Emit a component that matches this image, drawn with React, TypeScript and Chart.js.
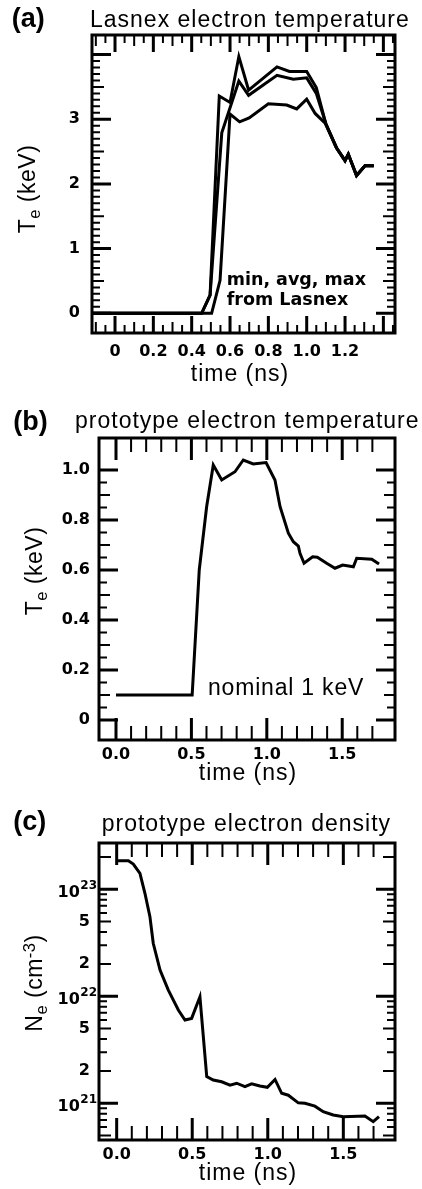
import React, { useEffect, useRef } from "react";
import { Chart, registerables } from "chart.js";
Chart.register(...registerables);

// ---------- Panel (a): Lasnex electron temperature ----------
const timeMaxA = [-0.12, 0.452, 0.496, 0.544, 0.6, 0.646, 0.697, 0.845, 0.91, 1.0, 1.05, 1.1, 1.155, 1.2, 1.217, 1.26, 1.304, 1.35];
const teMaxA = [0, 0, 0.28, 3.36, 3.26, 3.97, 3.45, 3.81, 3.74, 3.74, 3.49, 2.93, 2.56, 2.36, 2.46, 2.13, 2.28, 2.28];
const timeAvgA = [-0.12, 0.452, 0.496, 0.557, 0.646, 0.697, 0.845, 0.93, 1.0, 1.05, 1.1, 1.155, 1.2, 1.217, 1.26, 1.304, 1.35];
const teAvgA = [0, 0, 0.28, 2.79, 3.59, 3.37, 3.68, 3.62, 3.64, 3.4, 2.93, 2.56, 2.36, 2.46, 2.13, 2.28, 2.28];
const timeMinA = [-0.12, 0.504, 0.548, 0.6, 0.65, 0.7, 0.8, 0.896, 0.948, 1.0, 1.044, 1.096, 1.155, 1.2, 1.217, 1.26, 1.304, 1.35];
const teMinA = [0, 0, 0.51, 3.08, 2.96, 3.02, 3.24, 3.22, 3.16, 3.31, 3.09, 2.94, 2.56, 2.36, 2.46, 2.13, 2.28, 2.28];
const xLabelsA = [0, 0.2, 0.4, 0.6, 0.8, 1.0, 1.2];
const yLabelsA = [0, 1, 2, 3];

// ---------- Panel (b): prototype electron temperature ----------
const timeB = [0, 0.505, 0.552, 0.601, 0.645, 0.701, 0.789, 0.844, 0.91, 0.995, 1.054, 1.088, 1.143, 1.176, 1.209, 1.22, 1.247, 1.304, 1.335, 1.397, 1.452, 1.503, 1.574, 1.596, 1.696, 1.744];
const teB = [0.1, 0.1, 0.6, 0.853, 1.02, 0.96, 0.993, 1.04, 1.024, 1.03, 0.96, 0.853, 0.747, 0.713, 0.696, 0.667, 0.627, 0.653, 0.651, 0.627, 0.607, 0.62, 0.613, 0.647, 0.643, 0.624];
const xLabelsB = [0, 0.5, 1.0, 1.5];
const yLabelsB = [0, 0.2, 0.4, 0.6, 0.8, 1.0];

// ---------- Panel (c): prototype electron density ----------
const timeC = [0, 0.077, 0.11, 0.154, 0.187, 0.22, 0.242, 0.287, 0.341, 0.408, 0.452, 0.496, 0.551, 0.596, 0.639, 0.695, 0.75, 0.794, 0.849, 0.893, 0.948, 0.997, 1.048, 1.092, 1.136, 1.202, 1.246, 1.312, 1.367, 1.433, 1.5, 1.643, 1.698, 1.736];
const neC = [1.85e23, 1.85e23, 1.72e23, 1.41e23, 9.18e22, 5.55e22, 3.13e22, 1.76e22, 1.15e22, 7.45e21, 6.0e21, 6.22e21, 9.9e21, 1.78e21, 1.65e21, 1.59e21, 1.48e21, 1.54e21, 1.43e21, 1.52e21, 1.45e21, 1.41e21, 1.67e21, 1.24e21, 1.19e21, 1.01e21, 1.0e21, 9.4e20, 8.35e20, 7.78e20, 7.5e20, 7.6e20, 6.73e20, 7.5e20];
const xLabelsC = [0, 0.5, 1.0, 1.5];
const yLabelsC = [2e21, 5e21, 2e22, 5e22];
const yDecadeExpC = [21, 22, 23];

type Mark = { v: number; len: number; w: number };

function linMarks(from: number, to: number, step: number, lenFn: (k: number) => number): Mark[] {
  const out: Mark[] = [];
  const n0 = Math.round(from / step);
  const n1 = Math.round(to / step);
  for (let k = n0; k <= n1; k++) {
    const len = lenFn(k);
    out.push({ v: +(k * step).toFixed(6), len, w: len > 15 ? 3 : 2 });
  }
  return out;
}

function logMarks(minV: number, maxV: number): Mark[] {
  const out: Mark[] = [];
  for (let e = 19; e <= 24; e++) {
    for (let m = 1; m <= 9; m++) {
      const v = m * Math.pow(10, e);
      if (v < minV || v > maxV) continue;
      const len = m === 1 ? 19 : m === 2 || m === 5 ? 12 : 8;
      out.push({ v, len, w: m === 1 ? 3 : 2 });
    }
  }
  return out;
}

function framePlugin(xMarks: Mark[], yMarks: Mark[], decades?: number[]) {
  return {
    id: "frameTicks",
    afterDatasetsDraw(chart: any) {
      const { ctx, chartArea } = chart;
      const { left, right, top, bottom } = chartArea;
      const xs = chart.scales.x;
      const ys = chart.scales.y;
      ctx.save();
      ctx.strokeStyle = "#000";
      ctx.lineCap = "butt";
      for (const m of xMarks) {
        const px = xs.getPixelForValue(m.v);
        if (px < left + 2 || px > right - 2) continue;
        ctx.lineWidth = m.w;
        ctx.beginPath();
        ctx.moveTo(px, bottom);
        ctx.lineTo(px, bottom - m.len);
        ctx.moveTo(px, top);
        ctx.lineTo(px, top + m.len);
        ctx.stroke();
      }
      for (const m of yMarks) {
        const py = ys.getPixelForValue(m.v);
        if (py < top + 2 || py > bottom - 2) continue;
        ctx.lineWidth = m.w;
        ctx.beginPath();
        ctx.moveTo(left, py);
        ctx.lineTo(left + m.len, py);
        ctx.moveTo(right, py);
        ctx.lineTo(right - m.len, py);
        ctx.stroke();
      }
      ctx.lineWidth = 3;
      ctx.strokeRect(left, top, right - left, bottom - top);

      if (decades) {
        ctx.fillStyle = "#000";
        ctx.textAlign = "right";
        ctx.textBaseline = "middle";
        for (const e of decades) {
          const py = ys.getPixelForValue(Math.pow(10, e));
          const expText = String(e);
          ctx.font = "bold 12px 'DejaVu Sans'";
          const ew = ctx.measureText(expText).width;
          const xr = left - 2;
          ctx.fillText(expText, xr, py - 3);
          ctx.font = "bold 16px 'DejaVu Sans'";
          ctx.fillText("10", xr - ew - 0.5, py + 4);
        }
      }
      ctx.restore();
    },
  };
}

const tickFont = { family: "DejaVu Sans", size: 16, weight: "bold" as const };
const Y_W = 60;
const X_H = 40;

type PanelSpec = {
  canvasTop: number;
  canvasH: number;
  area: { L: number; R: number; T: number; B: number };
  datasets: any[];
  x: { min: number; max: number; labels: number[]; fmt: (v: number) => string; pad: number };
  y: { type: string; min: number; max: number; labels: number[]; fmt: (v: number) => string; pad: number };
  xMarks: Mark[];
  yMarks: Mark[];
  decades?: number[];
};

function line(times: number[], vals: number[]) {
  return {
    data: times.map((t, i) => ({ x: t, y: vals[i] })),
    borderColor: "#000",
    borderWidth: 3,
    pointRadius: 0,
    fill: false,
    tension: 0,
    borderJoinStyle: "miter",
  };
}

function Panel({ spec }: { spec: PanelSpec }) {
  const ref = useRef<HTMLCanvasElement | null>(null);
  useEffect(() => {
    if (!ref.current) return;
    const { area, canvasTop, canvasH } = spec;
    const chart = new Chart(ref.current, {
      type: "line",
      data: { datasets: spec.datasets },
      options: {
        responsive: false,
        animation: false,
        events: [],
        layout: {
          padding: {
            left: area.L - Y_W,
            right: 422 - area.R,
            top: area.T - canvasTop,
            bottom: canvasTop + canvasH - area.B - X_H,
          },
        },
        plugins: { legend: { display: false }, tooltip: { enabled: false } },
        scales: {
          x: {
            type: "linear",
            min: spec.x.min,
            max: spec.x.max,
            bounds: "data",
            grid: { display: false, drawTicks: false },
            border: { display: false },
            ticks: {
              font: tickFont,
              color: "#000",
              padding: spec.x.pad,
              maxRotation: 0,
              minRotation: 0,
              autoSkip: false,
              callback: (v: any) => spec.x.fmt(Number(v)),
            },
            afterBuildTicks: (s: any) => {
              s.ticks = spec.x.labels.map((v) => ({ value: v }));
            },
            afterFit: (s: any) => {
              s.height = X_H;
            },
          },
          y: {
            type: spec.y.type as any,
            min: spec.y.min,
            max: spec.y.max,
            bounds: "data",
            grid: { display: false, drawTicks: false },
            border: { display: false },
            ticks: {
              font: tickFont,
              color: "#000",
              padding: spec.y.pad,
              autoSkip: false,
              callback: (v: any) => spec.y.fmt(Number(v)),
            },
            afterBuildTicks: (s: any) => {
              s.ticks = spec.y.labels.map((v) => ({ value: v }));
            },
            afterFit: (s: any) => {
              s.width = Y_W;
            },
          },
        },
      } as any,
      plugins: [framePlugin(spec.xMarks, spec.yMarks, spec.decades)],
    });
    return () => chart.destroy();
  }, [spec]);
  return (
    <canvas
      ref={ref}
      width={422}
      height={spec.canvasH}
      style={{ position: "absolute", left: 0, top: spec.canvasTop, width: 422, height: spec.canvasH }}
    />
  );
}

const panelA: PanelSpec = {
  canvasTop: 0,
  canvasH: 395,
  area: { L: 92, R: 395, T: 35, B: 333 },
  datasets: [line(timeMaxA, teMaxA), line(timeAvgA, teAvgA), line(timeMinA, teMinA)],
  x: { min: -0.12, max: 1.4606, labels: xLabelsA, fmt: (v) => (v === 0 ? "0" : v.toFixed(1)), pad: 9 },
  y: { type: "linear", min: -0.305, max: 4.303, labels: yLabelsA, fmt: (v) => String(v), pad: 12 },
  xMarks: linMarks(-0.1, 1.45, 0.05, (k) => (k % 4 === 0 ? 17 : k % 2 === 0 ? 11 : 8)),
  yMarks: linMarks(0, 4.0, 0.1, (k) => (k % 10 === 0 ? 19 : k % 5 === 0 ? 12 : 8)),
};

const panelB: PanelSpec = {
  canvasTop: 395,
  canvasH: 400,
  area: { L: 99, R: 395, T: 438, B: 740 },
  datasets: [line(timeB, teB)],
  x: { min: -0.1127, max: 1.85, labels: xLabelsB, fmt: (v) => v.toFixed(1), pad: 5 },
  y: { type: "linear", min: -0.08, max: 1.128, labels: yLabelsB, fmt: (v) => (v === 0 ? "0" : v.toFixed(1)), pad: 9 },
  xMarks: linMarks(0, 1.7, 0.1, (k) => (k % 5 === 0 ? 22 : 14)),
  yMarks: linMarks(0, 1.0, 0.05, (k) => (k % 4 === 0 ? 19 : k % 2 === 0 ? 11 : 8)),
};

const panelC: PanelSpec = {
  canvasTop: 795,
  canvasH: 394,
  area: { L: 99, R: 395, T: 843, B: 1140 },
  datasets: [line(timeC, neC)],
  x: { min: -0.117, max: 1.842, labels: xLabelsC, fmt: (v) => v.toFixed(1), pad: 5 },
  y: {
    type: "logarithmic",
    min: 4.54e20,
    max: 2.708e23,
    labels: yLabelsC,
    fmt: (v) => String(Math.round(v / Math.pow(10, Math.floor(Math.log10(v) + 1e-9)))),
    pad: 9,
  },
  xMarks: linMarks(0, 1.7, 0.1, (k) => (k % 5 === 0 ? 22 : 14)),
  yMarks: logMarks(4.6e20, 2.6e23),
  decades: yDecadeExpC,
};

const sans = "'Liberation Sans', Arial, Helvetica, sans-serif";
const base: React.CSSProperties = {
  position: "absolute",
  whiteSpace: "nowrap",
  lineHeight: 1,
  color: "#000",
  fontFamily: sans,
};
const titleStyle: React.CSSProperties = { ...base, fontSize: 23, letterSpacing: 1 };
const tagStyle: React.CSSProperties = { ...base, fontSize: 27, fontWeight: "bold" };
const sub: React.CSSProperties = { fontSize: "0.72em", position: "relative", top: "0.28em" };
const sup: React.CSSProperties = { fontSize: "0.72em", position: "relative", top: "-0.45em" };

function YTitle({ cx, cy, children }: { cx: number; cy: number; children: React.ReactNode }) {
  return (
    <div
      style={{
        ...base,
        fontSize: 23,
        letterSpacing: 0.5,
        left: cx,
        top: cy,
        transform: "translate(-50%, -50%) rotate(-90deg)",
      }}
    >
      {children}
    </div>
  );
}

function XTitle({ cx, top }: { cx: number; top: number }) {
  return <div style={{ ...titleStyle, left: cx, top, transform: "translateX(-50%)" }}>time (ns)</div>;
}

export default function App() {
  return (
    <div style={{ position: "absolute", left: 0, top: 0, width: 422, height: 1189, background: "#fff", overflow: "hidden" }}>
      <Panel spec={panelA} />
      <Panel spec={panelB} />
      <Panel spec={panelC} />

      <div style={{ ...tagStyle, left: 11.7, top: 4.9 }}>(a)</div>
      <div style={{ ...titleStyle, left: 90, top: 7.8 }}>Lasnex electron temperature</div>
      <YTitle cx={26.5} cy={188.5}>
        T<span style={sub}>e</span> (keV)
      </YTitle>
      <XTitle cx={240} top={362.2} />
      <div style={{ ...base, fontFamily: "'DejaVu Sans', sans-serif", fontWeight: "bold", fontSize: 17.5, left: 226.7, top: 271 }}>
        min, avg, max
      </div>
      <div style={{ ...base, fontFamily: "'DejaVu Sans', sans-serif", fontWeight: "bold", fontSize: 17.5, left: 226.7, top: 290.5 }}>
        from Lasnex
      </div>

      <div style={{ ...tagStyle, left: 13.3, top: 408.2 }}>(b)</div>
      <div style={{ ...titleStyle, left: 75, top: 408.8 }}>prototype electron temperature</div>
      <YTitle cx={34} cy={571}>
        T<span style={sub}>e</span> (keV)
      </YTitle>
      <XTitle cx={248} top={760.5} />
      <div style={{ ...base, fontSize: 23, letterSpacing: 0.8, left: 208, top: 675.5 }}>nominal 1 keV</div>

      <div style={{ ...tagStyle, left: 13.3, top: 808.2 }}>(c)</div>
      <div style={{ ...titleStyle, left: 101.7, top: 812.2 }}>prototype electron density</div>
      <YTitle cx={33.5} cy={982.5}>
        N<span style={sub}>e</span> (cm<span style={sup}>-3</span>)
      </YTitle>
      <XTitle cx={248} top={1160.5} />
    </div>
  );
}
